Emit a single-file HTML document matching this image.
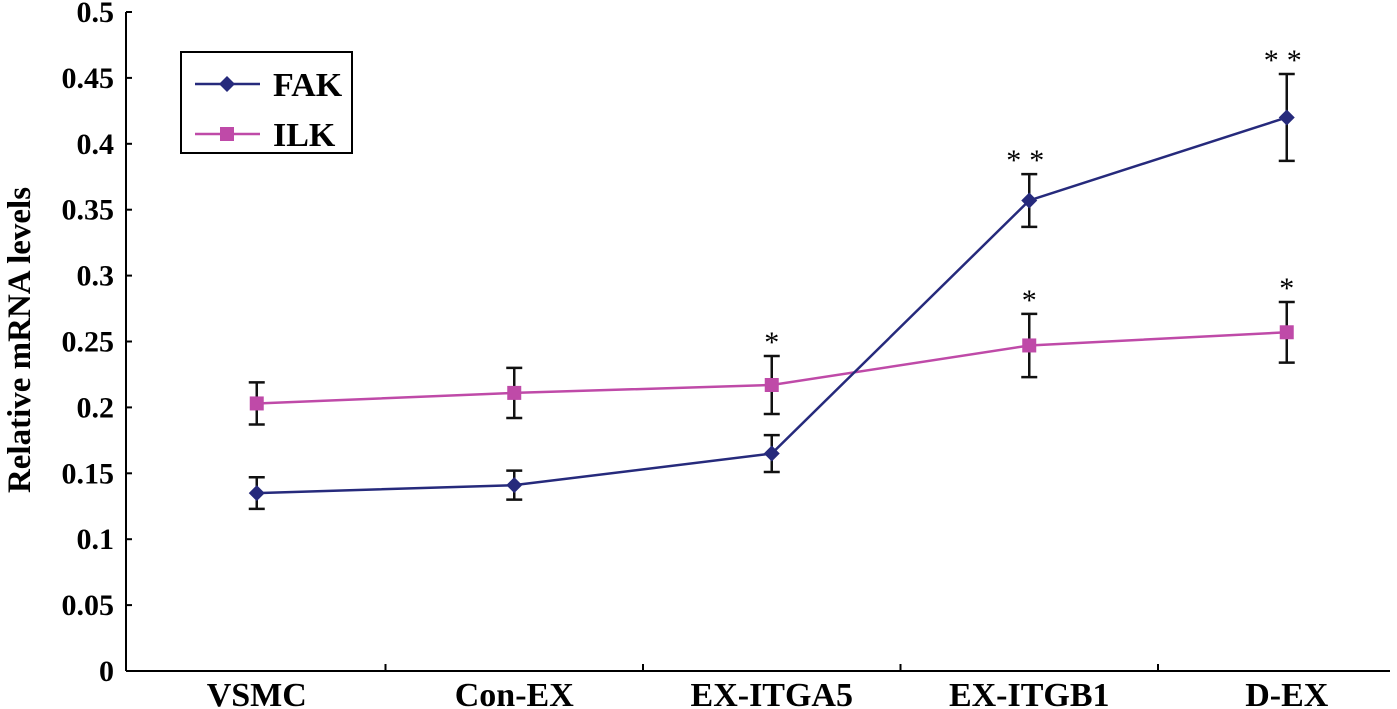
<!DOCTYPE html>
<html><head><meta charset="utf-8"><style>
body{margin:0;background:#fff}
svg{display:block;font-family:"Liberation Serif",serif;font-weight:bold}
</style></head><body>
<svg width="1397" height="709">
<g id="axes"></g><g id="marks"></g>
<g>
<rect x="181" y="52" width="171" height="101" fill="#fff" stroke="#000" stroke-width="2"/>
<g>
<line x1="195" y1="84" x2="260" y2="84" stroke="#262a7c" stroke-width="2.5"/>
<path d="M227 76 L235 84 L227 92 L219 84Z" fill="#262a7c"/>
<text x="273" y="96" font-size="34">FAK</text></g>
<g>
<line x1="195" y1="134" x2="260" y2="134" stroke="#bf4aa8" stroke-width="2.5"/>
<rect x="220" y="127" width="14" height="14" fill="#bf4aa8"/>
<text x="273" y="146" font-size="34">ILK</text></g>
</g>
<text transform="translate(30,340) rotate(-90)" text-anchor="middle" font-size="33">Relative mRNA levels</text>
</svg>
<script>
const categories=["VSMC","Con-EX","EX-ITGA5","EX-ITGB1","D-EX"];
const fakValues=[0.135,0.141,0.165,0.357,0.420];
const fakErrors=[0.012,0.011,0.014,0.020,0.033];
const ilkValues=[0.203,0.211,0.217,0.247,0.257];
const ilkErrors=[0.016,0.019,0.022,0.024,0.023];
const fakStars=["","","","**","**"];
const ilkStars=["","","*","*","*"];
const yTicks=[0,0.05,0.1,0.15,0.2,0.25,0.3,0.35,0.4,0.45,0.5];
const yTickLabels=["0","0.05","0.1","0.15","0.2","0.25","0.3","0.35","0.4","0.45","0.5"];

const NS="http://www.w3.org/2000/svg";
const X0=126,XE=1390,Y0=671,Y1=12,BX=128,band=257.5;
function xs(i){return BX+band*(i+0.5);}
function ys(v){return Y0-(v/0.5)*(Y0-Y1);}
function mk(tag,attrs,parent,text){const e=document.createElementNS(NS,tag);for(const k in attrs)e.setAttribute(k,attrs[k]);if(text!==undefined)e.textContent=text;parent.appendChild(e);return e;}
const axes=document.getElementById('axes'),marks=document.getElementById('marks');
let a=mk('line',{x1:X0,y1:Y0,x2:X0,y2:Y1,stroke:'#000','stroke-width':2},axes);


a=mk('line',{x1:X0,y1:Y0,x2:XE,y2:Y0,stroke:'#000','stroke-width':2},axes);


yTicks.forEach((t,i)=>{
  mk('line',{x1:X0,y1:ys(t),x2:X0+6,y2:ys(t),stroke:'#000','stroke-width':2},axes);
  const l=mk('text',{x:X0-12,y:ys(t)+10,'text-anchor':'end','font-size':30},axes,yTickLabels[i]);
  
  
});
categories.forEach((c,i)=>{
  if(i>0)mk('line',{x1:BX+band*i,y1:Y0,x2:BX+band*i,y2:Y0-7,stroke:'#000','stroke-width':2},axes);
  const l=mk('text',{x:xs(i),y:706,'text-anchor':'middle','font-size':34},axes,c);
  
  
});
function series(vals,errs,stars,color,name,marker){
  const g=mk('g',{},marks);
  
  
  mk('polyline',{points:vals.map((v,i)=>xs(i)+','+ys(v)).join(' '),fill:'none',stroke:color,'stroke-width':2.5},g);
  vals.forEach((v,i)=>{
    const x=xs(i),t=ys(v+errs[i]),b=ys(v-errs[i]);
    mk('path',{d:`M${x} ${t}V${b}M${x-8} ${t}H${x+8}M${x-8} ${b}H${x+8}`,stroke:'#111','stroke-width':2.5,fill:'none'},g);
    let m;
    if(marker==='d')m=mk('path',{d:`M${x} ${ys(v)-8}L${x+8} ${ys(v)}L${x} ${ys(v)+8}L${x-8} ${ys(v)}Z`,fill:color},g);
    else m=mk('rect',{x:x-7,y:ys(v)-7,width:14,height:14,fill:color},g);
    
    
    if(stars[i]){
      const s=mk('text',{x:x,y:t-4,'text-anchor':'middle','font-size':30,'font-weight':'normal','letter-spacing':stars[i].length>1?'8':'0'},g,stars[i]);
      
      
    }
  });
}
series(ilkValues,ilkErrors,ilkStars,'#bf4aa8','ilk','s');
series(fakValues,fakErrors,fakStars,'#262a7c','fak','d');
</script>
</body></html>
